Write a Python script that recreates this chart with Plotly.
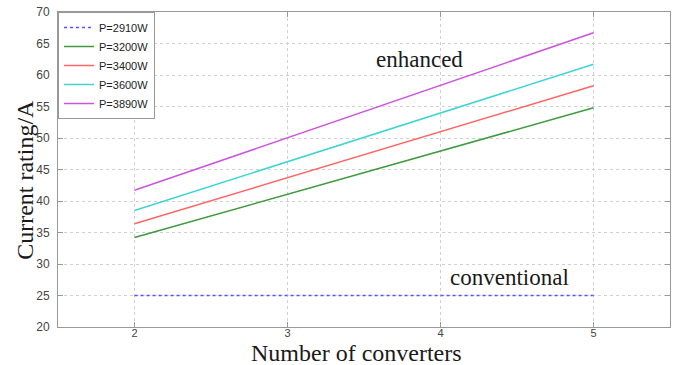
import plotly.graph_objects as go

converters = [2, 3, 4, 5]
labels = ["P=2910W", "P=3200W", "P=3400W", "P=3600W", "P=3890W"]
p2910 = [25.0, 25.0, 25.0, 25.0]
p3200 = [34.2, 41.1, 47.9, 54.8]
p3400 = [36.4, 43.7, 51.0, 58.3]
p3600 = [38.5, 46.2, 53.9, 61.7]
p3890 = [41.7, 50.0, 58.3, 66.7]
series = [p2910, p3200, p3400, p3600, p3890]
colors = ["#5555ff", "#3f9a3f", "#ff6464", "#40d4d4", "#cc55dd"]
dashes = ["dot", "solid", "solid", "solid", "solid"]

fig = go.Figure()
for name, ys, c, d in zip(labels, series, colors, dashes):
    fig.add_trace(go.Scatter(x=converters, y=ys, mode="lines", name=name,
                             line=dict(color=c, width=1.5, dash=d)))

serif = dict(family="Liberation Serif", size=23, color="#1a1a1a")
fig.add_annotation(x=3.86, y=62.4, text="enhanced", showarrow=False, font=serif)
fig.add_annotation(x=4.45, y=27.8, text="conventional", showarrow=False, font=serif)

title_font = dict(family="Liberation Serif", size=24, color="#1a1a1a")
fig.add_annotation(xref="paper", yref="paper", x=0.487, y=-0.082,
                   text="Number of converters", showarrow=False, font=title_font,
                   xanchor="center", yanchor="middle")
fig.add_annotation(xref="paper", yref="paper", x=-0.054, y=0.467,
                   text="Current rating/A", showarrow=False, font=title_font,
                   textangle=-90, xanchor="center", yanchor="middle")

axis_common = dict(showline=True, linecolor="#999", linewidth=1, mirror="ticks",
                   ticks="inside", ticklen=5, tickcolor="#999",
                   showgrid=True, gridcolor="#d0d0d0", griddash="dot", gridwidth=1,
                   zeroline=False, automargin=False)

fig.update_layout(
    width=680, height=365,
    margin=dict(l=58, r=10, t=12, b=38),
    plot_bgcolor="white", paper_bgcolor="white",
    xaxis=dict(range=[1.5, 5.5], tickvals=[2, 3, 4, 5], ticklabelstandoff=-4,
               tickfont=dict(family="Liberation Sans", size=11, color="#444"), **axis_common),
    yaxis=dict(range=[20, 70], dtick=5, ticklabelstandoff=5,
               tickfont=dict(family="Liberation Sans", size=12, color="#444"), **axis_common),
    legend=dict(x=0, y=1, xanchor="left", yanchor="top", bgcolor="white",
                bordercolor="#999", borderwidth=1,
                font=dict(family="Liberation Sans", size=11, color="#222"),
                tracegroupgap=0, itemwidth=30),
    showlegend=True,
)

fig.write_html("out.html", config={"displayModeBar": False},
               post_script="document.body.style.margin='0';document.body.style.overflow='hidden';")
